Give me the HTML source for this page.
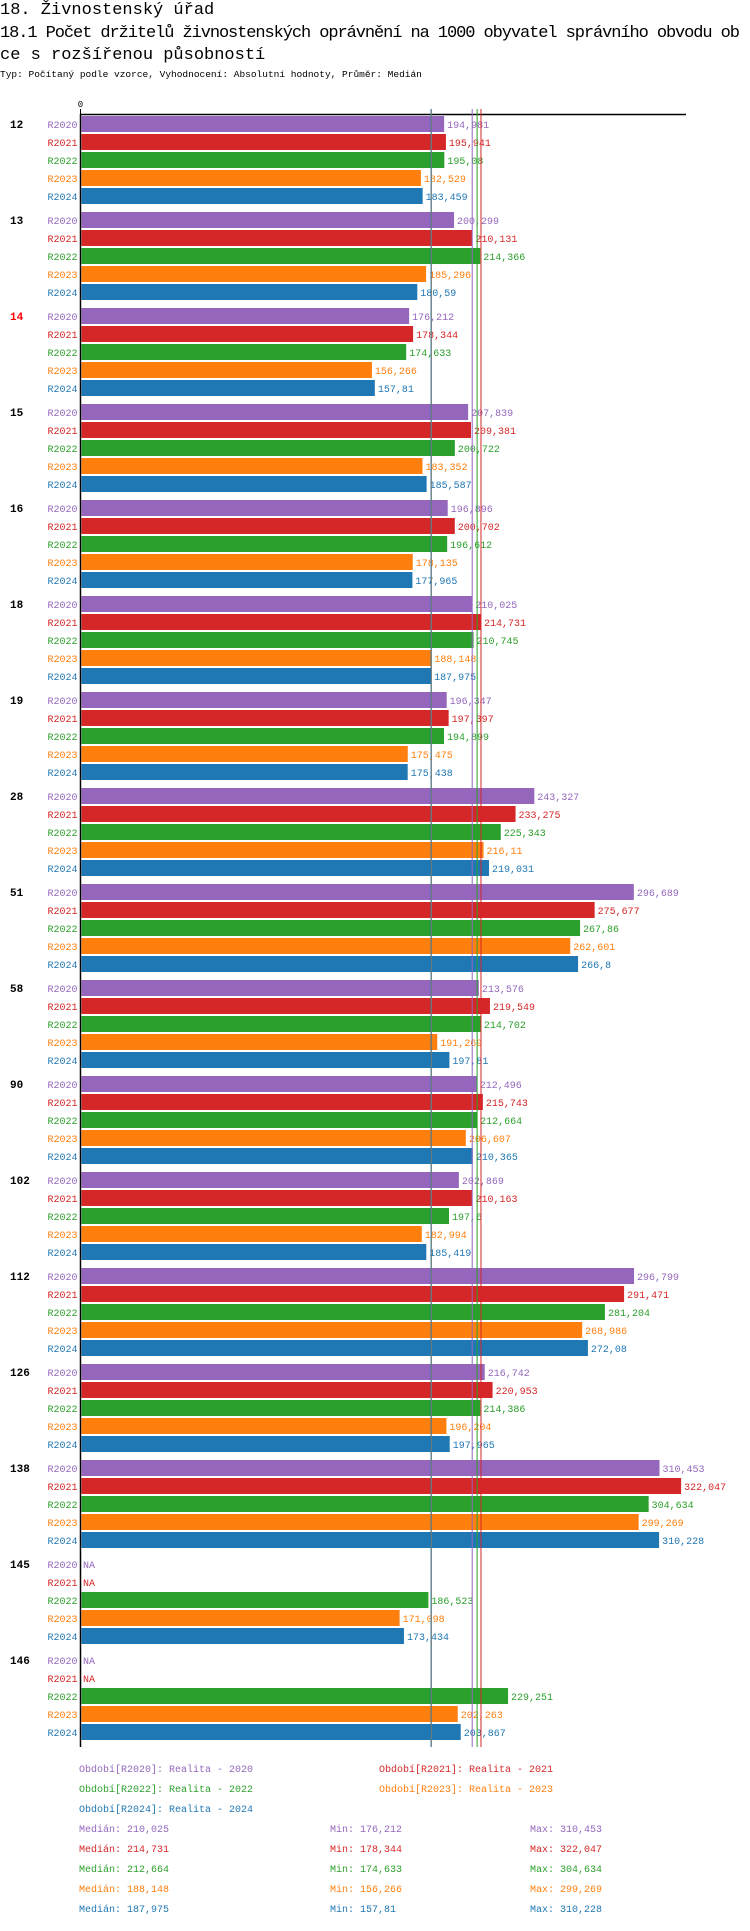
<!DOCTYPE html>
<html><head><meta charset="utf-8">
<style>
body{margin:0;background:#fff;}
svg text{font-family:"Liberation Mono",monospace;}
</style></head>
<body>
<svg id="chart" width="750" height="1926" xmlns="http://www.w3.org/2000/svg">
<text x="0" y="14" font-size="17" fill="#000">18. Živnostenský úřad</text>
<text x="0" y="37" font-size="17" fill="#000" textLength="740">18.1 Počet držitelů živnostenských oprávnění na 1000 obyvatel správního obvodu ob</text>
<text x="0" y="59" font-size="17" fill="#000">ce s rozšířenou působností</text>
<text x="0" y="77" font-size="9.5" fill="#000">Typ: Počítaný podle vzorce, Vyhodnocení: Absolutní hodnoty, Průměr: Medián</text>
<g id="plot"></g>
<g id="legend"></g>
</svg>
<script>
const categories = ["12","13","14","15","16","18","19","28","51","58","90","102","112","126","138","145","146"];
const seriesNames = ["R2020","R2021","R2022","R2023","R2024"];
const r2020 = [194.981,200.299,176.212,207.839,196.896,210.025,196.347,243.327,296.689,213.576,212.496,202.869,296.799,216.742,310.453,null,null];
const r2021 = [195.941,210.131,178.344,209.381,200.702,214.731,197.397,233.275,275.677,219.549,215.743,210.163,291.471,220.953,322.047,null,null];
const r2022 = [195.08,214.366,174.633,200.722,196.612,210.745,194.899,225.343,267.86,214.702,212.664,197.6,281.204,214.386,304.634,186.523,229.251];
const r2023 = [182.529,185.296,156.266,183.352,178.135,188.148,175.475,216.11,262.601,191.269,206.607,182.994,268.986,196.204,299.269,171.098,202.263];
const r2024 = [183.459,180.59,157.81,185.587,177.965,187.975,175.438,219.031,266.8,197.81,210.365,185.419,272.08,197.965,310.228,173.434,203.867];
const medians = [210.025,214.731,212.664,188.148,187.975];
const mins = [176.212,178.344,174.633,156.266,157.81];
const maxs = [310.453,322.047,304.634,299.269,310.228];
const highlighted = ["14"];

const series=[r2020,r2021,r2022,r2023,r2024];
const colors=["#9467bd","#d62728","#2ca02c","#ff7f0e","#1f77b4"];
const NS="http://www.w3.org/2000/svg";
const X0=80.5,K=1.865,Y0=116,GP=96,BP=18,BH=16;
const x=v=>X0+v*K;
const fmt=v=>String(v).replace('.',',');
const plot=document.getElementById('plot');
function mk(tag,attrs,parent,txt){const e=document.createElementNS(NS,tag);for(const k in attrs)e.setAttribute(k,attrs[k]);if(txt!==undefined)e.textContent=txt;parent.appendChild(e);return e;}
let ax=mk('line',{x1:X0,y1:114.5,x2:686,y2:114.5,stroke:'#000','stroke-width':1.5},plot);


let tk=mk('line',{x1:X0,y1:109,x2:X0,y2:115,stroke:'#000'},plot);


let tl=mk('text',{x:X0,y:107,'font-size':9,'text-anchor':'middle'},plot,'0');


const bottom=Y0+GP*(categories.length-1)+BP*4+BH;
let ya=mk('line',{x1:X0,y1:114,x2:X0,y2:bottom+7,stroke:'#000','stroke-width':1.5},plot);


categories.forEach((c,i)=>{
  const gy=Y0+GP*i;
  const gl=mk('text',{x:10,y:gy+12,'font-size':11,'font-weight':'bold',fill:highlighted.includes(c)?'#f00':'#000'},plot,c);
  
  
  series.forEach((s,j)=>{
    const y=gy+BP*j;const v=s[i];
    const sl=mk('text',{x:77.5,y:y+12,'font-size':10,'text-anchor':'end',fill:colors[j]},plot,seriesNames[j]);
    
    
    if(v===null){
      const na=mk('text',{x:83,y:y+12,'font-size':10,fill:colors[j]},plot,'NA');
      
      
      return;
    }
    const b=mk('rect',{x:X0+1,y:y,width:x(v)-X0-1,height:BH,fill:colors[j]},plot);
    
    
    const vl=mk('text',{x:x(v)+3,y:y+12,'font-size':10,fill:colors[j]},plot,fmt(v));
    
    
  });
});
[3,4,0,2,1].forEach(j=>{
  const m=mk('line',{x1:x(medians[j]),y1:109,x2:x(medians[j]),y2:bottom+7,stroke:colors[j],'stroke-width':1},plot);
  
  
});
const lg=document.getElementById('legend');
const legPos=[[79,1772],[379,1772],[79,1792],[379,1792],[79,1812]];
seriesNames.forEach((n,j)=>{
  const t=mk('text',{x:legPos[j][0],y:legPos[j][1],'font-size':10,fill:colors[j]},lg,'Období['+n+']: Realita - '+n.slice(1));
  
  
  const yy=1832+20*j;
  const a=mk('text',{x:79,y:yy,'font-size':10,fill:colors[j]},lg,'Medián: '+fmt(medians[j]));
  
  
  const b=mk('text',{x:330,y:yy,'font-size':10,fill:colors[j]},lg,'Min: '+fmt(mins[j]));
  
  
  const c=mk('text',{x:530,y:yy,'font-size':10,fill:colors[j]},lg,'Max: '+fmt(maxs[j]));
  
  
});
</script>
</body></html>
